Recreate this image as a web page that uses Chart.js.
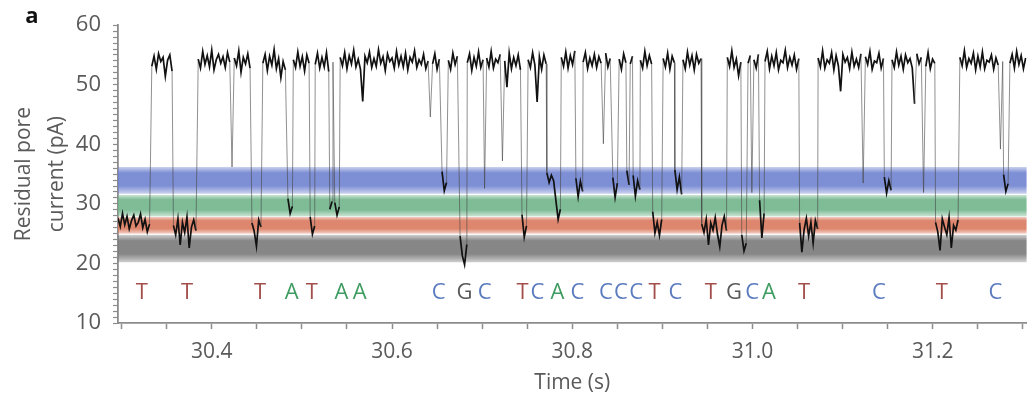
<!DOCTYPE html>
<html>
<head>
<meta charset="utf-8">
<script src="https://cdn.jsdelivr.net/npm/chart.js@4.4.1/dist/chart.umd.min.js"></script>
<style>
  html, body { margin: 0; padding: 0; background: #fff; }
  #wrap { width: 1033px; height: 396px; position: relative; }
</style>
</head>
<body>
<div id="wrap"><canvas id="c"></canvas></div>
<script>
// Sampling interval of the current recording inside each segment (s)
const SAMPLE_DT = 0.0025;

// Recorded segments: [start time (s), current samples (pA)]
const traceSegments = [
  [30.2960, [27.6, 26.2, 28.4, 26.5, 27.9, 25.8, 27.2, 28.1, 26.3, 26.9, 28.3, 26.0, 27.4, 25.3, 26.6]],
  [30.3335, [53.1, 54.8, 52.6, 55.2, 53.9, 54.6, 51.4, 54.1, 55.0, 52.3]],
  [30.3575, [26.4, 24.8, 27.5, 23.1, 26.9, 25.2, 27.8, 22.6, 26.1, 27.3, 25.5]],
  [30.3850, [54.3, 52.8, 55.6, 53.4, 54.9, 53.0, 55.8, 52.5, 54.2, 55.1, 53.6, 54.7, 52.9, 55.4, 53.8, 36.2, 54.5, 53.2, 55.7, 52.1, 54.6, 53.5, 55.2, 52.8]],
  [30.4446, [26.8, 25.4, 22.9, 27.3, 26.1]],
  [30.4567, [53.6, 55.1, 52.4, 54.8, 53.3, 55.9, 52.7, 54.4, 51.2, 53.9, 52.5]],
  [30.4845, [30.9, 28.4, 29.6]],
  [30.4905, [54.2, 52.9, 55.5, 53.1, 54.7, 52.3, 55.0, 53.6]],
  [30.5092, [27.8, 24.9, 26.3]],
  [30.5148, [53.4, 55.3, 52.8, 54.6, 53.0, 55.4, 52.2]],
  [30.5310, [29.1, 30.4]],
  [30.5345, [53.8]],
  [30.5365, [30.2, 28.1, 29.5]],
  [30.5425, [54.6, 53.2, 55.4, 52.7, 54.9, 53.5, 55.8, 53.0, 54.3, 52.6, 47.2, 54.8, 53.7, 55.5, 52.9, 54.4, 53.1, 55.9, 53.6, 54.7, 52.4, 55.2, 53.9, 54.5, 52.8, 55.6, 53.3, 54.8, 53.0, 55.3, 52.5, 54.6, 53.8, 55.7, 52.9, 54.2, 53.4, 55.1, 52.7, 54.0, 44.6, 53.5, 55.2, 52.6, 54.3]],
  [30.6555, [35.4, 32.2, 33.6]],
  [30.6625, [54.1, 52.6, 55.3, 53.4, 54.8]],
  [30.6755, [24.6, 21.3, 19.8, 23.2]],
  [30.6835, [53.7, 55.2, 52.4, 54.6, 53.1, 55.5, 52.9, 54.2]],
  [30.7027, [32.6]],
  [30.7050, [54.5, 53.0, 55.6, 52.8, 54.3, 53.7, 55.1, 37.2, 54.0, 49.6, 55.3, 52.7, 54.6, 53.2, 55.0, 52.5]],
  [30.7442, [28.2, 24.4, 26.3]],
  [30.7510, [54.2, 52.9, 55.4, 53.3, 47.1, 54.7, 52.6, 55.0, 53.5]],
  [30.7718, [35.2, 33.6, 34.8, 33.9]],
  [30.7818, [30.6, 27.4, 29.1]],
  [30.7878, [54.6, 53.1, 55.5, 52.8, 54.9, 53.4, 55.7]],
  [30.8040, [34.3, 31.2, 33.8, 32.1]],
  [30.8120, [53.8, 55.4, 52.7, 54.5, 53.2, 55.1, 52.9, 54.7, 53.6, 40.1, 55.3, 53.0, 54.4]],
  [30.8450, [34.4, 31.1, 33.5]],
  [30.8520, [54.3, 52.6, 55.2, 53.7]],
  [30.8605, [35.6, 33.2]],
  [30.8643, [53.5, 54.8]],
  [30.8675, [34.8, 31.3, 33.9, 32.4]],
  [30.8755, [54.1, 52.8, 55.6, 53.2, 54.9, 53.5]],
  [30.8892, [28.7, 25.1, 26.9, 24.7, 27.4]],
  [30.9008, [54.4, 53.0, 55.3, 52.6, 54.8, 53.7]],
  [30.9138, [35.7, 32.4, 34.5, 31.6]],
  [30.9228, [54.2, 52.7, 55.5, 53.3, 54.9, 52.5, 55.1, 53.6, 54.4]],
  [30.9436, [26.6, 25.2, 27.4, 23.1, 26.8, 25.6, 27.7, 24.9, 22.8, 26.4, 27.9, 25.5]],
  [30.9720, [54.6, 53.1, 55.7, 52.9, 54.3, 51.5, 53.8]],
  [30.9880, [24.8, 22.1, 23.4]],
  [30.9950, [53.6, 54.9]],
  [30.9992, [31.9]],
  [31.0015, [54.2, 52.8, 55.1]],
  [31.0078, [30.6, 24.3, 28.4]],
  [31.0138, [53.9, 55.6, 52.7, 54.8, 53.2, 55.4, 52.5, 54.1, 53.7, 55.8, 52.9, 54.6, 53.3, 55.0, 52.6, 54.4]],
  [31.0522, [26.8, 21.9, 25.7, 27.6, 24.6, 26.9, 23.4, 27.2, 25.8]],
  [31.0727, [54.5, 53.0, 55.7, 52.8, 54.2, 53.6, 55.4, 52.5, 54.9, 53.2, 48.9, 55.1, 53.8, 54.6, 52.7, 55.5, 53.1, 54.3, 52.9, 55.2, 33.5, 54.7, 53.4, 55.6, 52.6, 54.0, 53.7, 55.3, 52.8, 54.4]],
  [31.1462, [34.5, 31.8, 33.9, 32.3]],
  [31.1547, [54.2, 52.9, 55.5, 53.3, 54.8, 52.6, 55.0, 53.7, 54.4, 52.8, 46.8, 55.2, 53.5, 54.6, 31.9, 53.1, 55.4, 52.7, 54.3, 53.6]],
  [31.2030, [26.9, 25.3, 22.2, 27.5, 26.1, 24.8, 27.7, 22.6, 26.4, 25.6, 27.3]],
  [31.2300, [54.6, 53.2, 55.7, 52.9, 54.4, 53.6, 55.3, 52.5, 54.8, 53.0, 55.5, 52.7, 54.1, 53.8, 55.0, 52.6, 54.5, 53.3, 39.2, 53.9]],
  [31.2785, [34.9, 32.1, 33.4]],
  [31.2855, [53.6, 55.1, 52.8, 55.6, 53.4, 54.9, 52.7, 54.5]]
];

// Current ranges assigned to each base
const bandBase  = ['C', 'A', 'T', 'G'];
const bandLow   = [31.7, 27.9, 25.0, 20.2];
const bandHigh  = [36.2, 31.5, 27.8, 24.8];
const bandColor = ['#6b7fcf', '#6db388', '#d9765a', '#767676'];

// Base calls along the time axis
const callTimes = [30.3225, 30.3726, 30.4535, 30.4886, 30.5110, 30.5440, 30.5642,
                   30.6517, 30.6805, 30.7027, 30.7447, 30.7614, 30.7835, 30.8057,
                   30.8374, 30.8540, 30.8710, 30.8912, 30.9144, 30.9537, 30.9795,
                   30.9995, 31.0183, 31.0571, 31.1401, 31.2099, 31.2693];
const callBases = ['T', 'T', 'T', 'A', 'T', 'A', 'A',
                   'C', 'G', 'C', 'T', 'C', 'A', 'C',
                   'C', 'C', 'C', 'T', 'C', 'T', 'G',
                   'C', 'A', 'T', 'C', 'T', 'C'];
const CALL_LEVEL = 15;
const baseTextColor = { T: '#a24f4c', A: '#3e9c60', C: '#5b7bbf', G: '#595959' };

// Axis ticks
const yMajorTicks = [10, 20, 30, 40, 50, 60];
const xMajorTicks = [30.4, 30.6, 30.8, 31.0, 31.2];

const tracePoints = [];
traceSegments.forEach(([t0, samples]) => {
  samples.forEach((v, i) => tracePoints.push({ x: t0 + i * SAMPLE_DT, y: v }));
});

function rgba(hex, a) {
  const n = parseInt(hex.slice(1), 16);
  return `rgba(${(n >> 16) & 255},${(n >> 8) & 255},${n & 255},${a})`;
}

const FONT = "'Open Sans', 'DejaVu Sans', sans-serif";
const TEXT_GREY = '#5a5a5a';
const AXIS_GREY = '#8c8c8c';

const decorations = {
  id: 'decorations',
  beforeDatasetsDraw(chart) {
    const { ctx, chartArea: a, scales: { y } } = chart;
    ctx.save();
    bandLow.forEach((lo, i) => {
      const top = y.getPixelForValue(bandHigh[i]);
      const bot = y.getPixelForValue(lo);
      const g = ctx.createLinearGradient(0, top, 0, bot);
      const c = bandColor[i];
      g.addColorStop(0, rgba(c, 0.35));
      g.addColorStop(0.22, rgba(c, 0.88));
      g.addColorStop(0.7, rgba(c, 0.88));
      g.addColorStop(1, rgba(c, 0.35));
      ctx.fillStyle = g;
      ctx.fillRect(a.left, top, a.right - a.left, bot - top);
    });
    ctx.restore();
  },
  afterDatasetsDraw(chart) {
    const { ctx, scales: { x, y } } = chart;
    ctx.save();
    ctx.font = `22px ${FONT}`;
    ctx.textAlign = 'center';
    ctx.textBaseline = 'middle';
    callTimes.forEach((t, i) => {
      ctx.fillStyle = baseTextColor[callBases[i]];
      ctx.fillText(callBases[i], x.getPixelForValue(t), y.getPixelForValue(CALL_LEVEL));
    });
    ctx.restore();
  },
  afterDraw(chart) {
    const { ctx } = chart;
    ctx.save();
    ctx.font = `bold 22px ${FONT}`;
    ctx.fillStyle = '#111';
    ctx.textAlign = 'center';
    ctx.textBaseline = 'middle';
    ctx.fillText('a', 32, 17);
    ctx.restore();
  }
};

// Jumps between current levels are drawn as thin grey strokes
const isJump = ctx => Math.abs(ctx.p1.parsed.y - ctx.p0.parsed.y) > 8;

new Chart(document.getElementById('c'), {
  type: 'line',
  data: {
    datasets: [{
      label: 'Residual pore current',
      data: tracePoints,
      borderColor: '#111111',
      borderWidth: 1.7,
      pointRadius: 0,
      tension: 0,
      segment: {
        borderColor: ctx => isJump(ctx) ? 'rgba(70,70,70,0.6)' : undefined,
        borderWidth: ctx => isJump(ctx) ? 1 : undefined
      }
    }]
  },
  options: {
    responsive: true,
    maintainAspectRatio: false,
    devicePixelRatio: 1,
    animation: false,
    events: [],
    layout: { padding: { top: 22, right: 6, left: 0, bottom: 0 } },
    plugins: { legend: { display: false }, tooltip: { enabled: false } },
    scales: {
      x: {
        type: 'linear',
        min: 30.296,
        max: 31.304,
        afterFit: s => { s.height = 73; },
        ticks: {
          stepSize: 0.05,
          includeBounds: false,
          autoSkip: false,
          maxRotation: 0,
          padding: 10,
          color: TEXT_GREY,
          font: { family: FONT, size: 21 },
          callback: v => xMajorTicks.some(m => Math.abs(m - v) < 1e-6) ? v.toFixed(1) : ''
        },
        grid: { drawOnChartArea: false, tickLength: 6, color: AXIS_GREY, tickWidth: 1.5 },
        border: { display: true, color: AXIS_GREY, width: 1.8 },
        title: {
          display: true,
          text: 'Time (s)',
          color: TEXT_GREY,
          font: { family: FONT, size: 21 },
          padding: { top: 0, bottom: 0 }
        }
      },
      y: {
        min: 10,
        max: 60,
        afterFit: s => { s.width = 118; },
        ticks: {
          stepSize: 1,
          autoSkip: false,
          padding: 12,
          color: TEXT_GREY,
          font: { family: FONT, size: 22 },
          callback: v => yMajorTicks.includes(v) ? String(v) : ''
        },
        grid: { drawOnChartArea: false, tickLength: 5, color: AXIS_GREY, tickWidth: 1.2 },
        border: { display: true, color: AXIS_GREY, width: 1.8 },
        title: {
          display: true,
          text: ['Residual pore', 'current (pA)'],
          color: TEXT_GREY,
          font: { family: FONT, size: 21, lineHeight: 1.55 },
          padding: { top: 8, bottom: 0 }
        }
      }
    }
  },
  plugins: [decorations]
});
</script>
</body>
</html>
